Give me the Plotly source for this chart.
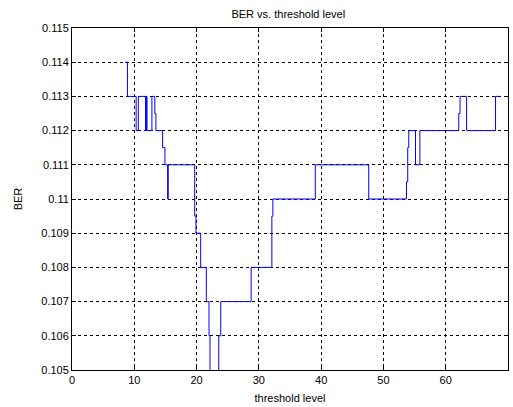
import plotly.graph_objects as go

# change points (threshold level) and BER value held from each point onward
threshold = [8.5, 8.9, 10.3, 10.65, 11.8, 11.95, 12.05, 12.83, 13.3, 13.47,
             14.55, 14.92, 15.35, 15.45, 19.7, 19.9, 20.66, 21.57, 22.0, 22.16,
             23.56, 23.88, 28.76, 32.09, 32.25, 39.06, 47.64, 53.7, 53.9, 54.07,
             55.15, 55.85, 62.1, 62.3, 63.36, 68.0, 68.8]
ber = [0.114, 0.113, 0.112, 0.113, 0.112, 0.113, 0.112, 0.113, 0.1125, 0.112,
       0.1115, 0.111, 0.110, 0.111, 0.1095, 0.109, 0.108, 0.107, 0.106, 0.1045,
       0.106, 0.107, 0.108, 0.1095, 0.110, 0.111, 0.110, 0.1105, 0.1115, 0.112,
       0.111, 0.112, 0.1125, 0.113, 0.112, 0.113, 0.113]

x_ticks = [0, 10, 20, 30, 40, 50, 60, 70]
y_ticks = [0.105, 0.106, 0.107, 0.108, 0.109, 0.110, 0.111, 0.112, 0.113, 0.114, 0.115]
y_tick_text = ["0.105", "0.106", "0.107", "0.108", "0.109", "0.11", "0.111",
               "0.112", "0.113", "0.114", "0.115"]

fig = go.Figure()
fig.add_trace(go.Scatter(x=threshold, y=ber, mode="lines",
                         line=dict(color="#0000ff", width=1, shape="hv"),
                         showlegend=False))

font = dict(family="Liberation Sans, Arial, sans-serif", size=11, color="#000")
axis_common = dict(showline=True, linecolor="#000", linewidth=1, mirror="ticks",
                   ticks="inside", ticklen=4, tickcolor="#000",
                   showgrid=True, gridcolor="#000", gridwidth=1, griddash="3px,3px",
                   zeroline=False, tickfont=font)

fig.update_layout(
    width=513, height=407, autosize=False,
    margin=dict(l=72, r=5, t=28, b=37),
    paper_bgcolor="white", plot_bgcolor="white",
    font=font,
    title=dict(text="BER vs. threshold level", x=0.562, xanchor="center",
               y=1 - 14 / 407, yanchor="middle", font=font),
    xaxis=dict(range=[0, 70], tickvals=x_ticks,
               title=dict(text="threshold level", font=font, standoff=9),
               **axis_common),
    yaxis=dict(range=[0.105, 0.115], tickvals=y_ticks, ticktext=y_tick_text,
               title=dict(text="BER", font=font, standoff=16),
               **axis_common),
)

fig.write_html("out.html")
